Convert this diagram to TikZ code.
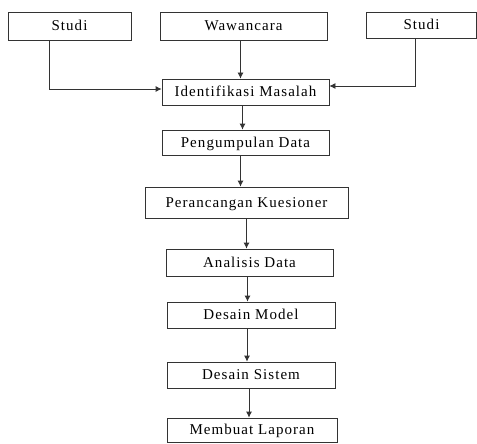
\documentclass[tikz,border=0pt]{standalone}
\usepackage{fontspec}
\setmainfont{Liberation Serif}
\newfontfamily\boxfont[LetterSpace=7]{Liberation Serif}
\usepackage{tikz}
\usetikzlibrary{arrows.meta}

\begin{document}
\begin{tikzpicture}[x=1pt,y=-1pt,
    box/.style={draw=black!80,line width=0.8pt,rectangle,inner sep=0pt,
        text height=10pt,text depth=1pt,
        font=\boxfont\fontsize{15}{17}\selectfont},
    flow/.style={draw=black!80,line width=0.8pt,-{Latex[length=6pt,width=6pt]}}]
    \useasboundingbox (0,0) rectangle (477,444);

%draw top row
    \node[box,minimum width=123,minimum height=28] (studiL) at (69.5,26) {Studi};
    \node[box,minimum width=167,minimum height=28] (wawan) at (243.5,26) {Wawancara};
    \node[box,minimum width=110,minimum height=26] (studiR) at (421.5,25) {Studi};

%draw steps
    \node[box,minimum width=167,minimum height=26] (ident) at (245.5,92) {Identifikasi Masalah};
    \node[box,minimum width=167,minimum height=25] (kumpul) at (245.5,142.5) {Pengumpulan Data};
    \node[box,minimum width=203,minimum height=31] (rancang) at (246.5,202.5) {Perancangan Kuesioner};
    \node[box,minimum width=167,minimum height=27] (analisis) at (249.5,262.5) {Analisis Data};
    \node[box,minimum width=168,minimum height=26] (model) at (251,315) {Desain Model};
    \node[box,minimum width=168,minimum height=26] (sistem) at (251,375) {Desain Sistem};
    \node[box,minimum width=170,minimum height=24] (laporan) at (252,430) {Membuat Laporan};

%draw arrows
    \draw[flow] ([xshift=-20.5pt]studiL.south) |- ([yshift=3pt]ident.west);
    \draw[flow] ([xshift=-6.5pt]studiR.south) |- ([yshift=6pt]ident.east);
    \draw[flow] ([xshift=-3pt]wawan.south) -- ([xshift=-3pt]wawan.south |- ident.north);
    \draw[flow] ([xshift=-3pt]ident.south) -- ([xshift=-3pt]ident.south |- kumpul.north);
    \draw[flow] ([xshift=-5pt]kumpul.south) -- ([xshift=-5pt]kumpul.south |- rancang.north);
    \draw[flow] (rancang.south) -- (rancang.south |- analisis.north);
    \draw[flow] ([xshift=-2pt]analisis.south) -- ([xshift=-2pt]analisis.south |- model.north);
    \draw[flow] ([xshift=-4pt]model.south) -- ([xshift=-4pt]model.south |- sistem.north);
    \draw[flow] ([xshift=-2pt]sistem.south) -- ([xshift=-2pt]sistem.south |- laporan.north);

\end{tikzpicture}
\end{document}
